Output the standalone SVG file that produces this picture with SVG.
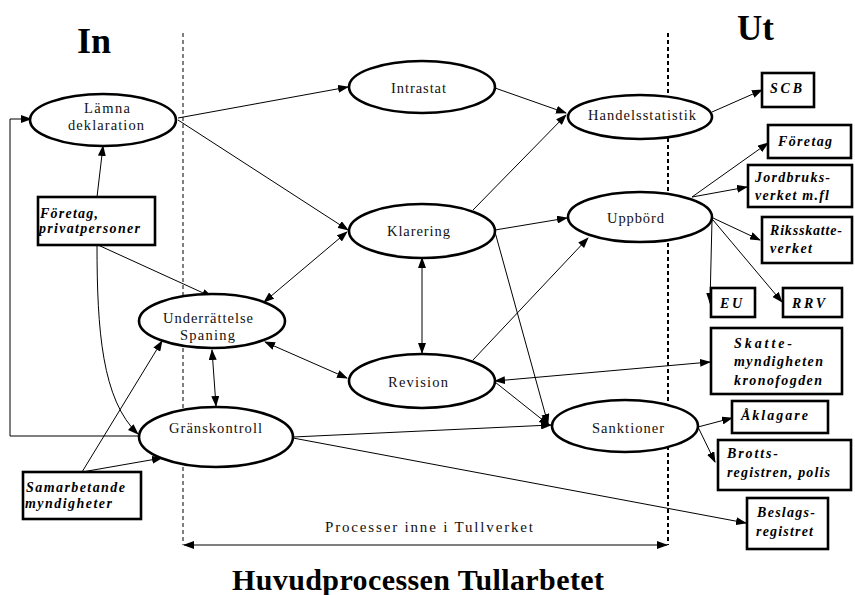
<svg xmlns="http://www.w3.org/2000/svg" width="855" height="595" viewBox="0 0 855 595">
  <defs>
    <marker id="arrow" markerUnits="userSpaceOnUse" markerWidth="11" markerHeight="8" refX="10" refY="4" orient="auto-start-reverse">
      <path d="M0,0 L11,4 L0,8 z" fill="#000"/>
    </marker>
    <style>
      .proc ellipse { fill: #fff; stroke: #000; stroke-width: 2.6; }
      .proc text { font-family: "Liberation Serif", "Times New Roman", serif; font-size: 14.5px; fill: #111; }
      .actor rect { fill: #fff; stroke: #000; stroke-width: 2.6; }
      .actor text { font-family: "Liberation Serif", "Times New Roman", serif; font-size: 14px; font-weight: bold; font-style: italic; fill: #000; }
      .conn line, .conn path, .conn polyline { fill: none; stroke: #000; stroke-width: 1; }
      .one { marker-end: url(#arrow); }
      .two { marker-start: url(#arrow); marker-end: url(#arrow); }
      .title { font-family: "Liberation Serif", "Times New Roman", serif; font-weight: bold; fill: #000; }
      .note { font-family: "Liberation Serif", "Times New Roman", serif; font-size: 15px; fill: #111; }
    </style>
  </defs>

  <rect width="855" height="595" fill="#fff"/>

  <!-- headings -->
  <text class="title" x="77" y="53" font-size="36">In</text>
  <text class="title" x="737" y="40" font-size="35">Ut</text>

  <!-- process boundary -->
  <g id="boundary">
    <line x1="183" y1="33" x2="183" y2="545" stroke="#000" stroke-width="1" stroke-dasharray="4,3"/>
    <line x1="668" y1="33" x2="668" y2="545" stroke="#000" stroke-width="2" stroke-dasharray="4,3"/>
  </g>

  <!-- connectors -->
  <g id="connectors" class="conn">
    <line class="one" x1="178" y1="118" x2="348" y2="87"/>
    <line class="one" x1="178" y1="120" x2="348" y2="230"/>
    <line class="one" x1="495" y1="88" x2="566" y2="113"/>
    <line class="one" x1="473" y1="210" x2="566" y2="115"/>
    <line class="one" x1="495" y1="230" x2="567" y2="218"/>
    <line class="one" x1="495" y1="232" x2="548" y2="424"/>
    <line class="one" x1="473" y1="360" x2="588" y2="238"/>
    <line class="one" x1="495" y1="382" x2="549" y2="425"/>
    <line class="one" x1="293" y1="437" x2="551" y2="425"/>
    <line class="one" x1="293" y1="438" x2="746" y2="523"/>
    <line class="two" x1="495" y1="381" x2="710" y2="362"/>
    <line class="two" x1="422" y1="258" x2="422" y2="353"/>
    <line class="two" x1="347" y1="232" x2="264" y2="302"/>
    <line class="two" x1="265" y1="342" x2="347" y2="378"/>
    <line class="two" x1="212" y1="350" x2="216" y2="406"/>
    <line class="one" x1="97" y1="197" x2="103" y2="146"/>
    <line class="one" x1="98" y1="245" x2="212" y2="297"/>
    <path class="one" d="M97,245 C97,330 102,400 138,434"/>
    <polyline class="one" points="139,436 10,436 10,119 31,119"/>
    <line class="one" x1="82" y1="472" x2="162" y2="341"/>
    <line class="one" x1="82" y1="472" x2="162" y2="458"/>
    <line class="one" x1="712" y1="112" x2="762" y2="90"/>
    <line class="one" x1="692" y1="197" x2="768" y2="143"/>
    <line class="one" x1="692" y1="197" x2="747" y2="187"/>
    <line class="one" x1="713" y1="218" x2="760" y2="240"/>
    <line class="one" x1="712" y1="220" x2="710" y2="303"/>
    <line class="one" x1="713" y1="220" x2="782" y2="302"/>
    <line class="one" x1="698" y1="427" x2="732" y2="418"/>
    <line class="one" x1="698" y1="427" x2="715" y2="462"/>
    <line class="two" x1="184" y1="545" x2="667" y2="545"/>
  </g>

  <!-- processes -->
  <g id="lamna-deklaration" class="proc">
    <ellipse cx="103" cy="120" rx="73" ry="26"/>
    <text x="84" y="113" textLength="46">Lämna</text>
    <text x="68" y="130" textLength="76">deklaration</text>
  </g>
  <g id="intrastat" class="proc">
    <ellipse cx="422" cy="87" rx="73" ry="26"/>
    <text x="391" y="93" textLength="55">Intrastat</text>
  </g>
  <g id="handelsstatistik" class="proc">
    <ellipse cx="640" cy="117" rx="72" ry="22"/>
    <text x="588" y="120" textLength="108">Handelsstatistik</text>
  </g>
  <g id="klarering" class="proc">
    <ellipse cx="422" cy="231" rx="73" ry="27"/>
    <text x="387" y="236" textLength="63">Klarering</text>
  </g>
  <g id="uppbord" class="proc">
    <ellipse cx="640" cy="217" rx="72" ry="25"/>
    <text x="607" y="223" textLength="57">Uppbörd</text>
  </g>
  <g id="underrattelse" class="proc">
    <ellipse cx="212" cy="321" rx="73" ry="27"/>
    <text x="163" y="323" textLength="90">Underrättelse</text>
    <text x="180" y="340" textLength="55">Spaning</text>
  </g>
  <g id="revision" class="proc">
    <ellipse cx="422" cy="381" rx="73" ry="27"/>
    <text x="388" y="387" textLength="60">Revision</text>
  </g>
  <g id="granskontroll" class="proc">
    <ellipse cx="216" cy="437" rx="77" ry="30"/>
    <text x="169" y="433" textLength="93">Gränskontroll</text>
  </g>
  <g id="sanktioner" class="proc">
    <ellipse cx="625" cy="426" rx="73" ry="26"/>
    <text x="592" y="433" textLength="72">Sanktioner</text>
  </g>

  <!-- actors -->
  <g id="foretag-privatpersoner" class="actor">
    <rect x="38" y="197" width="117" height="48"/>
    <text x="40" y="218" textLength="58">Företag,</text>
    <text x="39" y="233" textLength="101">privatpersoner</text>
  </g>
  <g id="samarbetande" class="actor">
    <rect x="23" y="472" width="118" height="47"/>
    <text x="26" y="492" textLength="99">Samarbetande</text>
    <text x="25" y="508" textLength="87">myndigheter</text>
  </g>
  <g id="scb" class="actor">
    <rect x="762" y="73" width="52" height="34"/>
    <text x="770" y="93" textLength="32">SCB</text>
  </g>
  <g id="foretag" class="actor">
    <rect x="768" y="125" width="83" height="33"/>
    <text x="778" y="146" textLength="54">Företag</text>
  </g>
  <g id="jordbruksverket" class="actor">
    <rect x="748" y="165" width="104" height="42"/>
    <text x="755" y="182" textLength="75">Jordbruks-</text>
    <text x="755" y="200" textLength="74">verket m.fl</text>
  </g>
  <g id="riksskatteverket" class="actor">
    <rect x="762" y="217" width="90" height="46"/>
    <text x="770" y="235" textLength="72">Riksskatte-</text>
    <text x="770" y="253" textLength="42">verket</text>
  </g>
  <g id="eu" class="actor">
    <rect x="711" y="288" width="44" height="29"/>
    <text x="720" y="308" textLength="22">EU</text>
  </g>
  <g id="rrv" class="actor">
    <rect x="783" y="288" width="59" height="29"/>
    <text x="792" y="308" textLength="33">RRV</text>
  </g>
  <g id="skattemyndigheten" class="actor">
    <rect x="711" y="328" width="131" height="66"/>
    <text x="734" y="348" textLength="58">Skatte-</text>
    <text x="734" y="366" textLength="89">myndigheten</text>
    <text x="734" y="385" textLength="88">kronofogden</text>
  </g>
  <g id="aklagare" class="actor">
    <rect x="732" y="401" width="96" height="32"/>
    <text x="741" y="420" textLength="67">Åklagare</text>
  </g>
  <g id="brottsregistren" class="actor">
    <rect x="718" y="440" width="133" height="50"/>
    <text x="727" y="458" textLength="51">Brotts-</text>
    <text x="727" y="477" textLength="103">registren, polis</text>
  </g>
  <g id="beslagsregistret" class="actor">
    <rect x="747" y="498" width="81" height="51"/>
    <text x="757" y="517" textLength="58">Beslags-</text>
    <text x="756" y="536" textLength="57">registret</text>
  </g>

  <!-- captions -->
  <text class="note" x="325" y="532" textLength="208">Processer inne i Tullverket</text>
  <text class="title" x="232" y="590" font-size="30" textLength="372">Huvudprocessen Tullarbetet</text>
</svg>
